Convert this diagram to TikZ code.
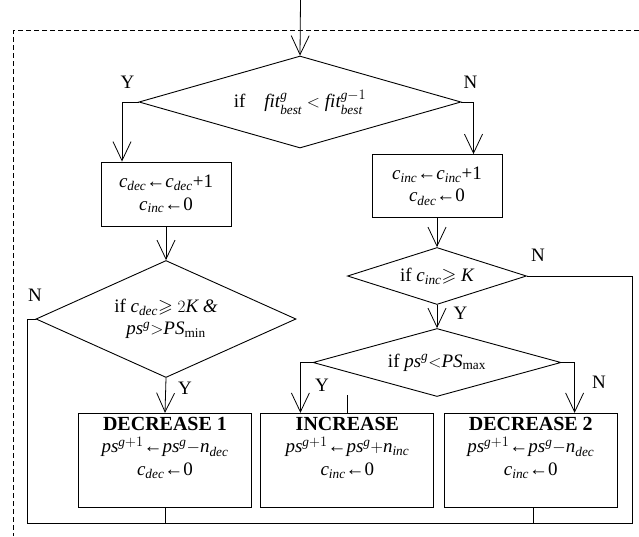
\documentclass[tikz,border=0pt]{standalone}
\usepackage{amsmath,amssymb}
\usepackage{fontspec}
\setmainfont{Liberation Serif}
\usetikzlibrary{arrows.meta,shapes.geometric,positioning}

\newcommand{\mv}[1]{\mathit{#1}}
\newcommand{\cdec}{$\mv{c}_{\mv{dec}}$}
\newcommand{\cinc}{$\mv{c}_{\mv{inc}}$}
\newcommand{\acttitle}[1]{{\fontsize{20}{22}\selectfont\bfseries #1}}

\begin{document}
\begin{tikzpicture}[
  x=1pt, y=-1pt,
  base/.style={font=\fontsize{19}{22.5}\selectfont},
  box/.style={base, draw, line width=0.9pt, align=center, inner sep=0pt},
  decision/.style={base, draw, diamond, aspect=3, line width=0.9pt, align=center, inner sep=0pt},
  restext/.style={base, align=center, inner sep=0pt},
  yn/.style={base, inner sep=0pt},
  arrow/.style={-{Straight Barb[length=19pt, width=18pt]}, line width=0.8pt},
  link/.style={line width=0.9pt},
  frame/.style={line width=0.7pt, dash pattern=on 5pt off 3pt}
]
\useasboundingbox (0,0) rectangle (639,536);

% dashed frame and entry
\coordinate (frameTR) at (639,30.7);
\coordinate (frameBL) at (13.4,536);
\draw[frame] (frameTR) -| (frameBL);
\coordinate (entry) at (300.5,0);

% first test
\node[decision, minimum width=322pt, minimum height=92pt] (fitcmp) at (300,102)
  {if\quad $\mv{fit}^{\mv{g}}_{\mv{best}} < \mv{fit}^{\mv{g}-1}_{\mv{best}}$};
\draw[arrow] (entry) -- (fitcmp.north);

% counters
\node[box, minimum width=130pt, minimum height=64pt] (decstep) at (166,194) {\cdec←\cdec+1\\ \cinc←0};
\node[box, minimum width=130pt, minimum height=63pt] (incstep) at (437,186) {\cinc←\cinc+1\\ \cdec←0};
\draw[arrow] (fitcmp.west) -| ([xshift=-44pt]decstep.north);
\draw[arrow] (fitcmp.east) -| ([xshift=36.5pt]incstep.north);
\node[yn] (y1) at (127.5,82) {Y};
\node[yn] (n1) at (470.5,82) {N};

% decrease branch test
\node[decision, minimum width=260pt, minimum height=117pt] (deccheck) at (166,319)
  {if \cdec$\geqslant 2\mv{K}$ \textit{\&}\\ $\mv{ps}^{\mv{g}}{>}\mv{PS}_{\min}$};
\draw[arrow] (decstep.south) -- (deccheck.north);
\node[yn] (n2) at (35,295) {N};

% increase branch tests
\node[decision, minimum width=179pt, minimum height=57pt] (inccheck) at (437,276) {if \cinc$\geqslant\mv{K}$};
\draw[arrow] (incstep.south) -- (inccheck.north);
\node[yn] (n3) at (538,255) {N};

\node[decision, minimum width=248pt, minimum height=68pt] (pscheck) at (437,362.5) {if $\mv{ps}^{\mv{g}}{<}\mv{PS}_{\max}$};
\draw[arrow] (inccheck.south) -- (pscheck.north);
\node[yn] (y3) at (460.5,313) {Y};

% actions
\node[box, minimum width=173pt, minimum height=94pt] (dec1) at (165,460.3) {};
\node[box, minimum width=173pt, minimum height=94pt] (inc) at (347.4,460.3) {};
\node[box, minimum width=173pt, minimum height=94pt] (dec2) at (530.8,460.3) {};
\node[restext, below=4pt of dec1.north] (dec1txt)
  {\acttitle{DECREASE 1}\\ $\mv{ps}^{\mv{g}+1}$←$\mv{ps}^{\mv{g}}{-}\mv{n}_{\mv{dec}}$\\ \cdec←0};
\node[restext, below=4pt of inc.north] (inctxt)
  {\acttitle{INCREASE}\\ $\mv{ps}^{\mv{g}+1}$←$\mv{ps}^{\mv{g}}{+}\mv{n}_{\mv{inc}}$\\ \cinc←0};
\node[restext, below=4pt of dec2.north] (dec2txt)
  {\acttitle{DECREASE 2}\\ $\mv{ps}^{\mv{g}+1}$←$\mv{ps}^{\mv{g}}{-}\mv{n}_{\mv{dec}}$\\ \cinc←0};

\draw[arrow] (deccheck.south) -- (dec1.north);
\draw[arrow] (pscheck.west) -| ([xshift=-47pt]inc.north);
\draw[arrow] (pscheck.east) -| ([xshift=43.8pt]dec2.north);
\draw[link] (inc.north) -- ++(0,-18);
\node[yn] (y2) at (185,388) {Y};
\node[yn] (y4) at (322,385) {Y};
\node[yn] (n4) at (599,382) {N};

% return loop
\coordinate (loopL) at (27.7,523.3);
\coordinate (loopR) at (632.5,523.3);
\draw[link] (deccheck.west) -| (loopL) -- (loopR) |- (inccheck.east);
\draw[link] (dec1.south) -- (dec1.south |- loopL);
\draw[link] ([xshift=3pt]dec2.south) -- ([xshift=3pt]dec2.south |- loopL);
\end{tikzpicture}
\end{document}
